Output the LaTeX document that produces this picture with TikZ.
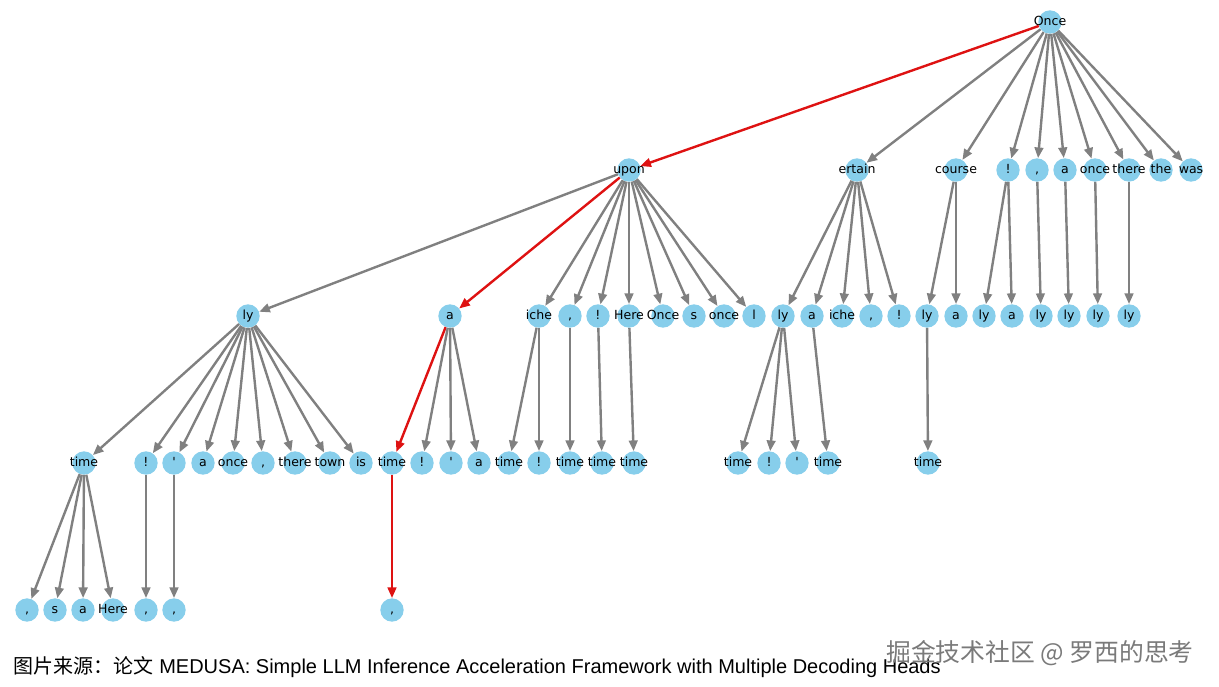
\documentclass[tikz,border=0pt]{standalone}
\usepackage{fontspec}
\usepackage{tikz}
\usetikzlibrary{arrows.meta}
\newfontfamily\labfont{DejaVu Sans}
\newfontfamily\capfont{Liberation Sans}
\newfontfamily\cjk{Noto Sans CJK SC}
\definecolor{tokblue}{RGB}{135,206,235}
\definecolor{edgegray}{RGB}{128,128,128}
\definecolor{pathred}{RGB}{222,18,18}

\begin{document}
\begin{tikzpicture}[x=0.75pt,y=-0.75pt,
  tok/.style={circle,fill=tokblue,inner sep=0pt,minimum size=17.5pt,
    font=\fontsize{9.4}{10}\labfont,text height=7pt,text depth=1.9pt,
    execute at begin node={\hbox to 0pt\bgroup\hss},
    execute at end node={\hss\egroup}},
  edge/.style={draw=edgegray,line width=1.8pt,-{Triangle[length=8pt,width=6.5pt]}},
  hot/.style={edge,draw=pathred}]
\useasboundingbox (0,0) rectangle (1219,686);
% level 0
\node[tok] (root) at (1050,22) {Once};
% level 1
\node[tok] (upon) at (629,170) {upon};
\node[tok] (ertain) at (857,170) {ertain};
\node[tok] (course) at (956,170) {course};
\node[tok] (bang1) at (1008,170) {!};
\node[tok] (comma1) at (1037,170) {,};
\node[tok] (a1) at (1065,170) {a};
\node[tok] (once1) at (1095,170) {once};
\node[tok] (there1) at (1129,170) {there};
\node[tok] (the1) at (1161,170) {the};
\node[tok] (was1) at (1191,170) {was};
% level 2
\node[tok] (ly2a) at (248,316) {ly};
\node[tok] (a2a) at (450,316) {a};
\node[tok] (iche2a) at (539,316) {iche};
\node[tok] (comma2a) at (570,316) {,};
\node[tok] (bang2a) at (598,316) {!};
\node[tok] (here2a) at (629,316) {Here};
\node[tok] (Once2a) at (663,316) {Once};
\node[tok] (s2a) at (694,316) {s};
\node[tok] (once2a) at (724,316) {once};
\node[tok] (l2a) at (754,316) {l};
\node[tok] (ly2b) at (783,316) {ly};
\node[tok] (a2b) at (812,316) {a};
\node[tok] (iche2b) at (842,316) {iche};
\node[tok] (comma2b) at (871,316) {,};
\node[tok] (bang2b) at (899,316) {!};
\node[tok] (ly2c) at (927,316) {ly};
\node[tok] (a2c) at (956,316) {a};
\node[tok] (ly2d) at (984,316) {ly};
\node[tok] (a2d) at (1012,316) {a};
\node[tok] (ly2e) at (1041,316) {ly};
\node[tok] (ly2f) at (1069,316) {ly};
\node[tok] (ly2g) at (1098,316) {ly};
\node[tok] (ly2h) at (1129,316) {ly};
% level 3
\node[tok] (time3a) at (84,463) {time};
\node[tok] (bang3a) at (146,463) {!};
\node[tok] (quote3a) at (174,463) {\textquotesingle};
\node[tok] (a3a) at (203,463) {a};
\node[tok] (once3a) at (233,463) {once};
\node[tok] (comma3a) at (263,463) {,};
\node[tok] (there3a) at (295,463) {there};
\node[tok] (town3a) at (330,463) {town};
\node[tok] (is3a) at (361,463) {is};
\node[tok] (time3b) at (392,463) {time};
\node[tok] (bang3b) at (422,463) {!};
\node[tok] (quote3b) at (451,463) {\textquotesingle};
\node[tok] (a3b) at (479,463) {a};
\node[tok] (time3c) at (509,463) {time};
\node[tok] (bang3c) at (539,463) {!};
\node[tok] (time3d) at (570,463) {time};
\node[tok] (time3e) at (602,463) {time};
\node[tok] (time3f) at (634,463) {time};
\node[tok] (time3g) at (738,463) {time};
\node[tok] (bang3d) at (769,463) {!};
\node[tok] (quote3d) at (797,463) {\textquotesingle};
\node[tok] (time3h) at (828,463) {time};
\node[tok] (time3i) at (928,463) {time};
% level 4
\node[tok] (comma4a) at (27,610) {,};
\node[tok] (s4a) at (55,610) {s};
\node[tok] (a4a) at (83,610) {a};
\node[tok] (here4a) at (113,610) {Here};
\node[tok] (comma4b) at (146,610) {,};
\node[tok] (comma4c) at (174,610) {,};
\node[tok] (comma4d) at (392,610) {,};
% edges from the root
\draw[hot] (root) -- (upon);
\draw[edge] (root) -- (ertain);
\draw[edge] (root) -- (course);
\draw[edge] (root) -- (bang1);
\draw[edge] (root) -- (comma1);
\draw[edge] (root) -- (a1);
\draw[edge] (root) -- (once1);
\draw[edge] (root) -- (there1);
\draw[edge] (root) -- (the1);
\draw[edge] (root) -- (was1);
% edges from level 1
\draw[edge] (upon) -- (ly2a);
\draw[hot] (upon) -- (a2a);
\draw[edge] (upon) -- (iche2a);
\draw[edge] (upon) -- (comma2a);
\draw[edge] (upon) -- (bang2a);
\draw[edge] (upon) -- (here2a);
\draw[edge] (upon) -- (Once2a);
\draw[edge] (upon) -- (s2a);
\draw[edge] (upon) -- (once2a);
\draw[edge] (upon) -- (l2a);
\draw[edge] (ertain) -- (ly2b);
\draw[edge] (ertain) -- (a2b);
\draw[edge] (ertain) -- (iche2b);
\draw[edge] (ertain) -- (comma2b);
\draw[edge] (ertain) -- (bang2b);
\draw[edge] (course) -- (ly2c);
\draw[edge] (course) -- (a2c);
\draw[edge] (bang1) -- (ly2d);
\draw[edge] (bang1) -- (a2d);
\draw[edge] (comma1) -- (ly2e);
\draw[edge] (a1) -- (ly2f);
\draw[edge] (once1) -- (ly2g);
\draw[edge] (there1) -- (ly2h);
% edges from level 2
\draw[edge] (ly2a) -- (time3a);
\draw[edge] (ly2a) -- (bang3a);
\draw[edge] (ly2a) -- (quote3a);
\draw[edge] (ly2a) -- (a3a);
\draw[edge] (ly2a) -- (once3a);
\draw[edge] (ly2a) -- (comma3a);
\draw[edge] (ly2a) -- (there3a);
\draw[edge] (ly2a) -- (town3a);
\draw[edge] (ly2a) -- (is3a);
\draw[hot] (a2a) -- (time3b);
\draw[edge] (a2a) -- (bang3b);
\draw[edge] (a2a) -- (quote3b);
\draw[edge] (a2a) -- (a3b);
\draw[edge] (iche2a) -- (time3c);
\draw[edge] (iche2a) -- (bang3c);
\draw[edge] (comma2a) -- (time3d);
\draw[edge] (bang2a) -- (time3e);
\draw[edge] (here2a) -- (time3f);
\draw[edge] (ly2b) -- (time3g);
\draw[edge] (ly2b) -- (bang3d);
\draw[edge] (ly2b) -- (quote3d);
\draw[edge] (a2b) -- (time3h);
\draw[edge] (ly2c) -- (time3i);
% edges from level 3
\draw[edge] (time3a) -- (comma4a);
\draw[edge] (time3a) -- (s4a);
\draw[edge] (time3a) -- (a4a);
\draw[edge] (time3a) -- (here4a);
\draw[edge] (bang3a) -- (comma4b);
\draw[edge] (quote3a) -- (comma4c);
\draw[hot] (time3b) -- (comma4d);
% caption and watermark
\node[anchor=base west,inner sep=0pt,font=\fontsize{15}{17}\selectfont] (caption) at (13,673)
  {{\cjk 图片来源：论文} \capfont MEDUSA: Simple LLM Inference Acceleration Framework with Multiple Decoding Heads};
\node[anchor=base east,inner sep=0pt,text=black!52,font=\fontsize{18.6}{20}\cjk] (mark) at (1194,661)
  {掘金技术社区 @ 罗西的思考};
\end{tikzpicture}
\end{document}
